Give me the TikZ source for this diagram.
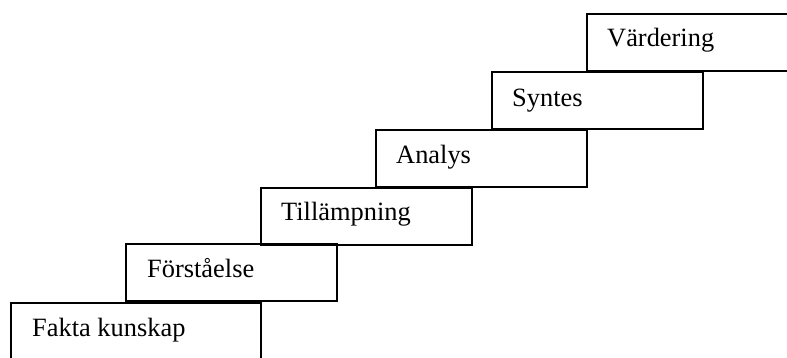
\documentclass[tikz,border=0pt]{standalone}
\usepackage{fontspec}
\setmainfont{Liberation Serif}
\begin{document}
\begin{tikzpicture}[x=1pt,y=1pt,
  stepbox/.style={draw=black,line width=1.8pt,minimum width=211pt,minimum height=57pt,inner sep=0pt,anchor=north west},
  steptext/.style={anchor=base west,inner sep=0pt,font=\fontsize{26.4}{30}\selectfont}]
\useasboundingbox (0,0) rectangle (787,358);
\clip (0,0) rectangle (787,358);
% staircase of levels, from the bottom step upwards
\node[stepbox,minimum width=250pt,minimum height=62pt] (b1) at (10,56) {};
\node[stepbox] (b2) at (125,115) {};
\node[stepbox] (b3) at (260,171) {};
\node[stepbox] (b4) at (375,229) {};
\node[stepbox] (b5) at (491,287) {};
\node[stepbox] (b6) at (586,345) {};
% labels
\node[steptext] (t1) at ([xshift=22pt,yshift=-35pt]b1.north west) {Fakta kunskap};
\node[steptext] (t2) at ([xshift=22pt,yshift=-35pt]b2.north west) {Förståelse};
\node[steptext] (t3) at ([xshift=21pt,yshift=-34pt]b3.north west) {Tillämpning};
\node[steptext] (t4) at ([xshift=21pt,yshift=-35pt]b4.north west) {Analys};
\node[steptext] (t5) at ([xshift=21pt,yshift=-36pt]b5.north west) {Syntes};
\node[steptext] (t6) at ([xshift=21pt,yshift=-34pt]b6.north west) {Värdering};
\end{tikzpicture}
\end{document}
